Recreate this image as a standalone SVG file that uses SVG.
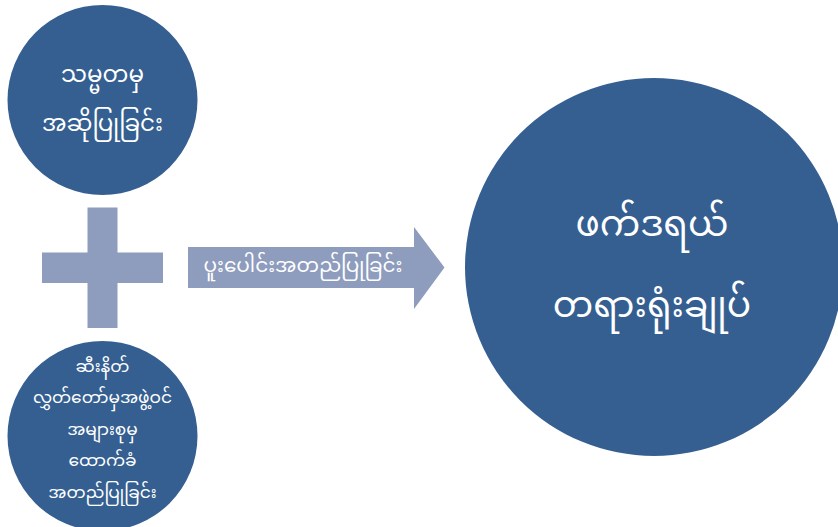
<svg xmlns="http://www.w3.org/2000/svg" width="838" height="527" viewBox="0 0 838 527">
<style>
.c{fill:#355f91}
.p{fill:#8e9cbd}
.t{fill:#ffffff;font-family:"Noto Sans Myanmar","Myanmar Text","Padauk","Noto Sans",sans-serif;text-anchor:middle;dominant-baseline:central}
</style>
<rect width="838" height="527" fill="#ffffff"/>
<g id="connectors">
<path class="p" d="M87.5,207.5H117.5V252.5H163V283H117.5V328H87.5V283H42V252.5H87.5Z"/>
<path class="p" d="M188,247H414V227L444.5,267.5L414,309V288H188Z"/>
<text class="t" x="303" y="267" font-size="20">ပူးပေါင်းအတည်ပြုခြင်း</text>
</g>
<g id="node-president">
<circle class="c" cx="102.5" cy="100" r="95"/>
<text class="t" x="102.5" y="77" font-size="23">သမ္မတမှ</text>
<text class="t" x="102.5" y="126" font-size="23">အဆိုပြုခြင်း</text>
</g>
<g id="node-senate">
<circle class="c" cx="102.5" cy="436" r="95"/>
<text class="t" x="102.5" y="368" font-size="17">ဆီးနိတ်</text>
<text class="t" x="102.5" y="399" font-size="17">လွှတ်တော်မှအဖွဲ့ဝင်</text>
<text class="t" x="102.5" y="431" font-size="17">အများစုမှ</text>
<text class="t" x="102.5" y="462" font-size="17">ထောက်ခံ</text>
<text class="t" x="102.5" y="494" font-size="17">အတည်ပြုခြင်း</text>
</g>
<g id="node-court">
<circle class="c" cx="654" cy="267" r="189"/>
<text class="t" x="652" y="227" font-size="36">ဖက်ဒရယ်</text>
<text class="t" x="652" y="308" font-size="36">တရားရုံးချုပ်</text>
</g>
</svg>
